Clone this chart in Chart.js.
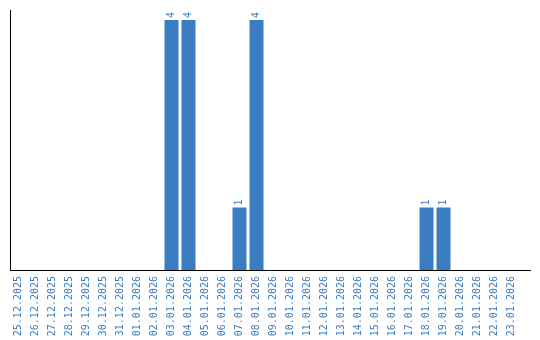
<!DOCTYPE html>
<html>
<head>
<meta charset="utf-8">
<script src="https://cdn.jsdelivr.net/npm/chart.js@4"></script>
<style>
  html, body { margin: 0; padding: 0; background: #fff; }
  #wrap { width: 540px; height: 340px; }
</style>
</head>
<body>
<div id="wrap"><canvas id="chart"></canvas></div>
<script>
const days = [
  '25.12.2025', '26.12.2025', '27.12.2025', '28.12.2025', '29.12.2025',
  '30.12.2025', '31.12.2025', '01.01.2026', '02.01.2026', '03.01.2026',
  '04.01.2026', '05.01.2026', '06.01.2026', '07.01.2026', '08.01.2026',
  '09.01.2026', '10.01.2026', '11.01.2026', '12.01.2026', '13.01.2026',
  '14.01.2026', '15.01.2026', '16.01.2026', '17.01.2026', '18.01.2026',
  '19.01.2026', '20.01.2026', '21.01.2026', '22.01.2026', '23.01.2026'
];
const counts = [
  0, 0, 0, 0, 0, 0, 0, 0, 0, 4,
  4, 0, 0, 1, 4, 0, 0, 0, 0, 0,
  0, 0, 0, 0, 1, 1, 0, 0, 0, 0
];

const blue = '#3b7dc3';
const fontFamily = "'DejaVu Sans Mono', monospace";

// value labels turned upright above each bar
const barLabels = {
  id: 'barLabels',
  afterDatasetsDraw(chart) {
    const ctx = chart.ctx;
    const meta = chart.getDatasetMeta(0);
    ctx.save();
    ctx.fillStyle = blue;
    ctx.font = '10px ' + fontFamily;
    ctx.textAlign = 'left';
    ctx.textBaseline = 'middle';
    meta.data.forEach((bar, i) => {
      if (!counts[i]) return;
      ctx.save();
      ctx.translate(bar.x, bar.y - 2);
      ctx.rotate(-Math.PI / 2);
      ctx.fillText(String(counts[i]), 0, 0);
      ctx.restore();
    });
    ctx.restore();
  }
};

// x axis line runs a bit past the last category
const axisTail = {
  id: 'axisTail',
  afterDraw(chart) {
    const { ctx, chartArea } = chart;
    ctx.save();
    ctx.strokeStyle = '#000';
    ctx.lineWidth = 1;
    ctx.beginPath();
    ctx.moveTo(chartArea.left, chartArea.bottom + 0.5);
    ctx.lineTo(chartArea.right + 11, chartArea.bottom + 0.5);
    ctx.stroke();
    ctx.restore();
  }
};

new Chart(document.getElementById('chart'), {
  type: 'bar',
  data: {
    labels: days,
    datasets: [{
      data: counts,
      backgroundColor: blue,
      borderWidth: 0,
      barPercentage: 14 / 17,
      categoryPercentage: 1
    }]
  },
  options: {
    responsive: true,
    maintainAspectRatio: false,
    animation: false,
    layout: { padding: { top: 10, right: 20, left: 0, bottom: 0 } },
    scales: {
      x: {
        grid: { display: false, drawTicks: false },
        border: { display: false },
        ticks: {
          color: blue,
          font: { family: fontFamily, size: 10 },
          maxRotation: 90,
          minRotation: 90,
          autoSkip: false,
          padding: 6
        },
        afterFit: s => { s.height = 70; }
      },
      y: {
        min: 0,
        max: 4.16,
        grid: { display: false, drawTicks: false },
        border: { display: true, color: '#000', width: 1 },
        ticks: { display: false },
        afterFit: s => { s.width = 10; }
      }
    },
    plugins: {
      legend: { display: false },
      tooltip: { enabled: false }
    }
  },
  plugins: [barLabels, axisTail]
});
</script>
</body>
</html>
